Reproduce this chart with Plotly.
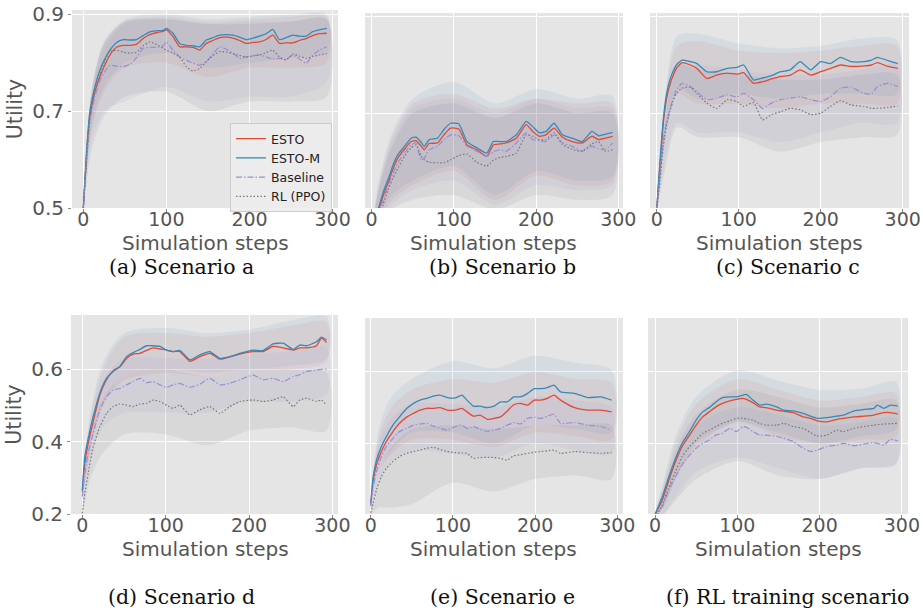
import plotly.graph_objects as go

# ---------------- data ----------------
SERIES = ["ESTO", "ESTO-M", "Baseline", "RL (PPO)"]
X_TICKS = [0, 100, 200, 300]
BAND_X = [0, 10, 25, 50, 100, 150, 200, 250, 293]

# (a) Scenario a
A_X = [0, 4, 8, 14, 20, 26, 32, 40, 48, 56, 64, 72, 80, 88, 96, 100, 108, 116, 124, 132, 140, 148, 156, 164,
       172, 180, 188, 196, 204, 212, 220, 228, 236, 244, 252, 260, 268, 276, 284, 293]
A_ESTO_M = [0.50, 0.62, 0.70, 0.75, 0.785, 0.808, 0.826, 0.842, 0.848, 0.847, 0.848, 0.856, 0.864, 0.866, 0.867,
            0.871, 0.861, 0.840, 0.836, 0.835, 0.833, 0.847, 0.852, 0.857, 0.858, 0.857, 0.853, 0.848, 0.851,
            0.855, 0.860, 0.869, 0.848, 0.852, 0.857, 0.855, 0.855, 0.864, 0.868, 0.871]
A_ESTO = [0.50, 0.61, 0.69, 0.74, 0.771, 0.796, 0.816, 0.832, 0.836, 0.836, 0.838, 0.850, 0.858, 0.862, 0.865,
          0.868, 0.854, 0.833, 0.833, 0.832, 0.826, 0.840, 0.846, 0.852, 0.853, 0.851, 0.846, 0.840, 0.842,
          0.843, 0.848, 0.857, 0.840, 0.841, 0.841, 0.846, 0.850, 0.856, 0.860, 0.861]
A_BASELINE = [0.50, 0.60, 0.68, 0.73, 0.764, 0.782, 0.795, 0.793, 0.792, 0.797, 0.810, 0.830, 0.832, 0.832, 0.835,
              0.843, 0.826, 0.812, 0.805, 0.799, 0.795, 0.802, 0.818, 0.833, 0.828, 0.820, 0.809, 0.812, 0.815,
              0.816, 0.812, 0.808, 0.809, 0.806, 0.816, 0.808, 0.799, 0.816, 0.826, 0.833]
A_RL = [0.50, 0.60, 0.69, 0.745, 0.775, 0.805, 0.823, 0.826, 0.822, 0.820, 0.822, 0.835, 0.843, 0.838, 0.830,
        0.826, 0.820, 0.812, 0.792, 0.783, 0.788, 0.802, 0.815, 0.823, 0.822, 0.819, 0.815, 0.812, 0.814,
        0.816, 0.821, 0.826, 0.812, 0.806, 0.818, 0.814, 0.809, 0.813, 0.816, 0.819]
A_ESTO_HI = [0.50, 0.74, 0.84, 0.885, 0.895, 0.885, 0.890, 0.895, 0.895]
A_ESTO_LO = [0.50, 0.66, 0.74, 0.79, 0.80, 0.77, 0.79, 0.79, 0.80]
A_ESTO_M_HI = [0.50, 0.745, 0.845, 0.89, 0.90, 0.89, 0.895, 0.90, 0.90]
A_ESTO_M_LO = [0.50, 0.67, 0.75, 0.80, 0.82, 0.79, 0.80, 0.81, 0.82]
A_BASELINE_HI = [0.50, 0.73, 0.83, 0.88, 0.89, 0.88, 0.885, 0.885, 0.89]
A_BASELINE_LO = [0.50, 0.64, 0.70, 0.72, 0.75, 0.72, 0.73, 0.73, 0.76]
A_RL_HI = [0.50, 0.74, 0.84, 0.885, 0.89, 0.88, 0.88, 0.885, 0.89]
A_RL_LO = [0.50, 0.62, 0.69, 0.73, 0.74, 0.70, 0.72, 0.72, 0.73]

# (b) Scenario b
B_X = [0, 8, 14, 20, 26, 32, 40, 48, 54, 60, 64, 70, 80, 88, 96, 106, 116, 128, 140, 148, 156, 164, 176, 188,
       196, 204, 212, 222, 232, 244, 256, 268, 276, 284, 293]
B_ESTO_M = [0.45, 0.50, 0.535, 0.562, 0.592, 0.614, 0.631, 0.648, 0.650, 0.640, 0.631, 0.645, 0.648, 0.666, 0.679,
            0.678, 0.641, 0.628, 0.617, 0.641, 0.641, 0.641, 0.655, 0.683, 0.672, 0.659, 0.662, 0.679, 0.655,
            0.648, 0.641, 0.662, 0.653, 0.656, 0.660]
B_ESTO = [0.445, 0.495, 0.528, 0.555, 0.584, 0.607, 0.625, 0.641, 0.643, 0.632, 0.624, 0.637, 0.638, 0.655, 0.669,
          0.667, 0.634, 0.624, 0.610, 0.634, 0.636, 0.638, 0.648, 0.676, 0.662, 0.652, 0.655, 0.669, 0.650,
          0.641, 0.638, 0.652, 0.645, 0.648, 0.652]
B_BASELINE = [0.44, 0.49, 0.52, 0.548, 0.575, 0.597, 0.617, 0.634, 0.638, 0.603, 0.606, 0.624, 0.631, 0.645, 0.655,
              0.653, 0.631, 0.621, 0.610, 0.620, 0.624, 0.621, 0.638, 0.659, 0.645, 0.643, 0.641, 0.655, 0.638,
              0.631, 0.621, 0.631, 0.626, 0.624, 0.638]
B_RL = [0.43, 0.48, 0.51, 0.541, 0.565, 0.586, 0.610, 0.628, 0.634, 0.612, 0.603, 0.598, 0.597, 0.597, 0.603,
        0.612, 0.615, 0.598, 0.590, 0.602, 0.608, 0.610, 0.617, 0.655, 0.652, 0.645, 0.645, 0.659, 0.635,
        0.625, 0.621, 0.636, 0.641, 0.621, 0.624]
B_ESTO_HI = [0.46, 0.56, 0.65, 0.72, 0.74, 0.71, 0.73, 0.72, 0.72]
B_ESTO_LO = [0.40, 0.48, 0.52, 0.55, 0.58, 0.52, 0.57, 0.55, 0.56]
B_ESTO_M_HI = [0.47, 0.57, 0.66, 0.73, 0.765, 0.72, 0.75, 0.73, 0.735]
B_ESTO_M_LO = [0.41, 0.49, 0.53, 0.56, 0.59, 0.53, 0.58, 0.56, 0.57]
B_BASELINE_HI = [0.46, 0.55, 0.64, 0.71, 0.73, 0.70, 0.73, 0.71, 0.71]
B_BASELINE_LO = [0.40, 0.47, 0.51, 0.54, 0.56, 0.51, 0.55, 0.54, 0.55]
B_RL_HI = [0.45, 0.55, 0.63, 0.70, 0.72, 0.69, 0.72, 0.70, 0.70]
B_RL_LO = [0.40, 0.46, 0.50, 0.52, 0.53, 0.50, 0.53, 0.52, 0.53]

# (c) Scenario c
C_X = [0, 4, 8, 12, 16, 20, 24, 31, 41, 49, 61, 73, 86, 98, 106, 118, 129, 140, 151, 163, 175, 188, 200, 212,
       224, 237, 253, 262, 269, 282, 294]
C_ESTO_M = [0.50, 0.60, 0.686, 0.74, 0.769, 0.787, 0.800, 0.810, 0.807, 0.803, 0.786, 0.786, 0.793, 0.795, 0.800,
            0.769, 0.773, 0.778, 0.786, 0.790, 0.807, 0.790, 0.807, 0.803, 0.816, 0.807, 0.807, 0.810, 0.816,
            0.809, 0.803]
C_ESTO = [0.50, 0.59, 0.679, 0.73, 0.759, 0.778, 0.793, 0.805, 0.800, 0.793, 0.772, 0.779, 0.783, 0.781, 0.784,
          0.762, 0.765, 0.771, 0.776, 0.779, 0.790, 0.779, 0.786, 0.793, 0.800, 0.797, 0.798, 0.800, 0.805,
          0.797, 0.793]
C_BASELINE = [0.50, 0.57, 0.645, 0.68, 0.707, 0.730, 0.748, 0.762, 0.755, 0.745, 0.728, 0.731, 0.738, 0.734,
              0.741, 0.728, 0.710, 0.721, 0.728, 0.731, 0.734, 0.728, 0.724, 0.734, 0.752, 0.754, 0.741, 0.740,
              0.755, 0.762, 0.755]
C_RL = [0.50, 0.56, 0.631, 0.675, 0.703, 0.725, 0.741, 0.752, 0.754, 0.741, 0.721, 0.710, 0.728, 0.724, 0.714,
        0.722, 0.686, 0.697, 0.703, 0.710, 0.707, 0.697, 0.700, 0.714, 0.726, 0.717, 0.714, 0.710, 0.710,
        0.712, 0.715]
C_ESTO_HI = [0.50, 0.72, 0.84, 0.85, 0.83, 0.825, 0.83, 0.84, 0.84]
C_ESTO_LO = [0.50, 0.64, 0.74, 0.72, 0.72, 0.71, 0.72, 0.72, 0.72]
C_ESTO_M_HI = [0.50, 0.73, 0.86, 0.865, 0.845, 0.835, 0.84, 0.855, 0.852]
C_ESTO_M_LO = [0.50, 0.65, 0.75, 0.73, 0.74, 0.73, 0.74, 0.74, 0.74]
C_BASELINE_HI = [0.50, 0.69, 0.80, 0.80, 0.79, 0.78, 0.78, 0.79, 0.80]
C_BASELINE_LO = [0.50, 0.60, 0.68, 0.66, 0.66, 0.64, 0.66, 0.68, 0.68]
C_RL_HI = [0.50, 0.68, 0.80, 0.79, 0.78, 0.77, 0.77, 0.78, 0.78]
C_RL_LO = [0.50, 0.58, 0.67, 0.65, 0.65, 0.62, 0.64, 0.65, 0.655]

# (d) Scenario d
D_X = [0, 3, 7, 13, 21, 29, 37, 45, 53, 61, 69, 77, 85, 93, 101, 109, 117, 129, 141, 153, 165, 177, 189, 205,
       217, 229, 241, 253, 261, 269, 281, 287, 293]
D_ESTO_M = [0.266, 0.359, 0.409, 0.469, 0.534, 0.575, 0.594, 0.607, 0.635, 0.646, 0.655, 0.665, 0.665, 0.663,
            0.653, 0.649, 0.652, 0.626, 0.640, 0.649, 0.630, 0.635, 0.644, 0.653, 0.652, 0.670, 0.672, 0.655,
            0.667, 0.665, 0.676, 0.689, 0.681]
D_ESTO = [0.262, 0.340, 0.395, 0.455, 0.529, 0.571, 0.596, 0.607, 0.630, 0.642, 0.644, 0.652, 0.659, 0.656,
          0.653, 0.649, 0.649, 0.622, 0.635, 0.644, 0.628, 0.634, 0.642, 0.649, 0.649, 0.663, 0.659, 0.653,
          0.659, 0.659, 0.665, 0.686, 0.674]
D_BASELINE = [0.248, 0.312, 0.368, 0.423, 0.488, 0.524, 0.543, 0.547, 0.557, 0.566, 0.575, 0.563, 0.566, 0.557,
              0.550, 0.557, 0.561, 0.550, 0.559, 0.575, 0.557, 0.561, 0.571, 0.584, 0.571, 0.575, 0.566, 0.580,
              0.585, 0.594, 0.598, 0.600, 0.600]
D_RL = [0.202, 0.257, 0.312, 0.386, 0.441, 0.478, 0.497, 0.504, 0.501, 0.497, 0.504, 0.506, 0.515, 0.511, 0.501,
        0.492, 0.501, 0.474, 0.488, 0.497, 0.478, 0.497, 0.511, 0.515, 0.511, 0.515, 0.524, 0.497, 0.515, 0.520,
        0.511, 0.515, 0.500]
D_ESTO_HI = [0.28, 0.47, 0.60, 0.69, 0.70, 0.69, 0.70, 0.72, 0.73]
D_ESTO_LO = [0.24, 0.38, 0.50, 0.57, 0.59, 0.58, 0.60, 0.60, 0.62]
D_ESTO_M_HI = [0.29, 0.48, 0.62, 0.70, 0.715, 0.70, 0.71, 0.735, 0.745]
D_ESTO_M_LO = [0.24, 0.39, 0.51, 0.58, 0.60, 0.59, 0.60, 0.61, 0.63]
D_BASELINE_HI = [0.27, 0.44, 0.57, 0.63, 0.63, 0.63, 0.64, 0.65, 0.66]
D_BASELINE_LO = [0.23, 0.35, 0.44, 0.48, 0.48, 0.48, 0.51, 0.51, 0.53]
D_RL_HI = [0.22, 0.41, 0.52, 0.58, 0.60, 0.58, 0.60, 0.60, 0.59]
D_RL_LO = [0.19, 0.30, 0.37, 0.42, 0.42, 0.39, 0.43, 0.44, 0.43]

# (e) Scenario e
E_X = [0, 3, 7, 13, 19, 27, 35, 44, 52, 60, 68, 76, 84, 93, 103, 111, 117, 125, 133, 142, 150, 158, 166, 174,
       182, 191, 199, 207, 215, 223, 231, 248, 264, 280, 293]
E_ESTO_M = [0.233, 0.307, 0.353, 0.391, 0.419, 0.451, 0.474, 0.498, 0.512, 0.521, 0.526, 0.532, 0.535, 0.528,
            0.527, 0.535, 0.521, 0.504, 0.504, 0.500, 0.504, 0.516, 0.516, 0.530, 0.530, 0.540, 0.553, 0.553,
            0.556, 0.563, 0.544, 0.540, 0.528, 0.530, 0.521]
E_ESTO = [0.228, 0.298, 0.340, 0.377, 0.405, 0.433, 0.456, 0.474, 0.484, 0.493, 0.498, 0.498, 0.500, 0.493,
          0.493, 0.498, 0.488, 0.476, 0.479, 0.467, 0.470, 0.474, 0.490, 0.508, 0.512, 0.507, 0.521, 0.521,
          0.526, 0.535, 0.521, 0.500, 0.493, 0.493, 0.488]
E_BASELINE = [0.223, 0.279, 0.321, 0.363, 0.391, 0.414, 0.433, 0.442, 0.451, 0.454, 0.456, 0.448, 0.442, 0.437,
              0.447, 0.451, 0.442, 0.447, 0.440, 0.433, 0.437, 0.442, 0.451, 0.458, 0.454, 0.470, 0.473, 0.470,
              0.476, 0.482, 0.456, 0.458, 0.451, 0.447, 0.437]
E_RL = [0.205, 0.233, 0.270, 0.307, 0.330, 0.349, 0.363, 0.372, 0.377, 0.381, 0.386, 0.389, 0.383, 0.377, 0.374,
        0.373, 0.372, 0.358, 0.360, 0.361, 0.360, 0.358, 0.353, 0.365, 0.368, 0.372, 0.375, 0.377, 0.379, 0.381,
        0.372, 0.377, 0.374, 0.372, 0.374]
E_ESTO_HI = [0.24, 0.42, 0.50, 0.55, 0.58, 0.57, 0.60, 0.58, 0.57]
E_ESTO_LO = [0.22, 0.32, 0.37, 0.41, 0.41, 0.39, 0.43, 0.42, 0.41]
E_ESTO_M_HI = [0.25, 0.44, 0.53, 0.58, 0.63, 0.61, 0.645, 0.625, 0.605]
E_ESTO_M_LO = [0.22, 0.33, 0.38, 0.43, 0.43, 0.40, 0.45, 0.44, 0.43]
E_BASELINE_HI = [0.24, 0.40, 0.47, 0.51, 0.51, 0.50, 0.53, 0.52, 0.50]
E_BASELINE_LO = [0.21, 0.30, 0.35, 0.38, 0.37, 0.36, 0.40, 0.38, 0.37]
E_RL_HI = [0.21, 0.32, 0.39, 0.44, 0.45, 0.44, 0.45, 0.45, 0.45]
E_RL_LO = [0.20, 0.22, 0.22, 0.23, 0.29, 0.265, 0.30, 0.31, 0.30]

# (f) RL training scenario
F_X = [0, 9, 17, 25, 33, 42, 50, 58, 66, 74, 82, 91, 99, 107, 111, 119, 127, 135, 148, 156, 168, 180, 189, 197,
       209, 221, 229, 242, 254, 266, 270, 278, 286, 295]
F_ESTO_M = [0.200, 0.251, 0.307, 0.358, 0.400, 0.433, 0.465, 0.488, 0.500, 0.516, 0.528, 0.530, 0.530, 0.535,
            0.537, 0.521, 0.507, 0.510, 0.502, 0.493, 0.491, 0.484, 0.476, 0.470, 0.472, 0.476, 0.479, 0.491,
            0.495, 0.498, 0.507, 0.498, 0.507, 0.504]
F_ESTO = [0.200, 0.242, 0.298, 0.349, 0.391, 0.423, 0.451, 0.474, 0.488, 0.502, 0.512, 0.519, 0.523, 0.526,
          0.523, 0.514, 0.502, 0.500, 0.493, 0.490, 0.486, 0.474, 0.470, 0.463, 0.460, 0.467, 0.470, 0.474,
          0.476, 0.479, 0.482, 0.486, 0.486, 0.482]
F_BASELINE = [0.190, 0.223, 0.270, 0.307, 0.340, 0.367, 0.386, 0.400, 0.409, 0.423, 0.428, 0.442, 0.433, 0.447,
              0.445, 0.433, 0.423, 0.423, 0.419, 0.414, 0.405, 0.386, 0.377, 0.381, 0.391, 0.395, 0.400, 0.393,
              0.398, 0.402, 0.400, 0.395, 0.411, 0.407]
F_RL = [0.190, 0.228, 0.279, 0.321, 0.363, 0.391, 0.409, 0.428, 0.437, 0.447, 0.456, 0.463, 0.470, 0.470, 0.468,
        0.465, 0.456, 0.451, 0.451, 0.456, 0.447, 0.442, 0.430, 0.420, 0.423, 0.437, 0.433, 0.442, 0.447, 0.451,
        0.452, 0.454, 0.455, 0.456]
F_ESTO_HI = [0.20, 0.28, 0.40, 0.51, 0.58, 0.55, 0.52, 0.53, 0.54]
F_ESTO_LO = [0.20, 0.22, 0.30, 0.39, 0.46, 0.42, 0.40, 0.41, 0.42]
F_ESTO_M_HI = [0.20, 0.29, 0.42, 0.53, 0.605, 0.575, 0.55, 0.553, 0.572]
F_ESTO_M_LO = [0.20, 0.22, 0.30, 0.40, 0.46, 0.43, 0.40, 0.42, 0.44]
F_BASELINE_HI = [0.20, 0.26, 0.36, 0.45, 0.50, 0.48, 0.45, 0.46, 0.47]
F_BASELINE_LO = [0.19, 0.20, 0.25, 0.32, 0.36, 0.33, 0.30, 0.33, 0.34]
F_RL_HI = [0.20, 0.27, 0.38, 0.48, 0.55, 0.53, 0.50, 0.51, 0.52]
F_RL_LO = [0.19, 0.20, 0.24, 0.30, 0.35, 0.31, 0.30, 0.33, 0.345]

CAPTIONS = ["(a) Scenario a", "(b) Scenario b", "(c) Scenario c",
            "(d) Scenario d", "(e) Scenario e", "(f) RL training scenario"]
X_TITLE = "Simulation steps"
Y_TITLE = "Utility"

# ---------------- styling ----------------
W, H = 923, 614
COLORS = ["#E24A33", "#348ABD", "#988ED5", "#777777"]
DASHES = ["solid", "solid", "6px,2px,1.5px,2px", "1.5px,2px"]
WIDTHS = [1.3, 1.3, 1.2, 1.2]
FILLS = ["rgba(226,74,51,0.09)", "rgba(52,138,189,0.09)", "rgba(152,142,213,0.11)", "rgba(119,119,119,0.11)"]
TICK_COLOR = "#555555"

panels = [
    dict(x=A_X, m=[A_ESTO, A_ESTO_M, A_BASELINE, A_RL],
         hi=[A_ESTO_HI, A_ESTO_M_HI, A_BASELINE_HI, A_RL_HI], lo=[A_ESTO_LO, A_ESTO_M_LO, A_BASELINE_LO, A_RL_LO],
         px=(72, 338), py=(10, 208), xr=(-13.6, 306.5), yr=(0.5, 0.909), yt=[0.5, 0.7, 0.9], lab=True,
         tx=205, ty=243, cx=181, cy=267),
    dict(x=B_X, m=[B_ESTO, B_ESTO_M, B_BASELINE, B_RL],
         hi=[B_ESTO_HI, B_ESTO_M_HI, B_BASELINE_HI, B_RL_HI], lo=[B_ESTO_LO, B_ESTO_M_LO, B_BASELINE_LO, B_RL_LO],
         px=(365, 623), py=(13, 208), xr=(-8.0, 305.7), yr=(0.503, 0.908), yt=[0.5, 0.7, 0.9], lab=False,
         tx=494, ty=243, cx=502, cy=267),
    dict(x=C_X, m=[C_ESTO, C_ESTO_M, C_BASELINE, C_RL],
         hi=[C_ESTO_HI, C_ESTO_M_HI, C_BASELINE_HI, C_RL_HI], lo=[C_ESTO_LO, C_ESTO_M_LO, C_BASELINE_LO, C_RL_LO],
         px=(650, 909), py=(13, 208), xr=(-8.2, 307.7), yr=(0.503, 0.908), yt=[0.5, 0.7, 0.9], lab=False,
         tx=779, ty=243, cx=788, cy=267),
    dict(x=D_X, m=[D_ESTO, D_ESTO_M, D_BASELINE, D_RL],
         hi=[D_ESTO_HI, D_ESTO_M_HI, D_BASELINE_HI, D_RL_HI], lo=[D_ESTO_LO, D_ESTO_M_LO, D_BASELINE_LO, D_RL_LO],
         px=(71, 338), py=(315, 514), xr=(-13.6, 306.8), yr=(0.2, 0.75), yt=[0.2, 0.4, 0.6], lab=True,
         tx=205, ty=549, cx=181, cy=597),
    dict(x=E_X, m=[E_ESTO, E_ESTO_M, E_BASELINE, E_RL],
         hi=[E_ESTO_HI, E_ESTO_M_HI, E_BASELINE_HI, E_RL_HI], lo=[E_ESTO_LO, E_ESTO_M_LO, E_BASELINE_LO, E_RL_LO],
         px=(365, 623), py=(318, 514), xr=(-7.0, 307.0), yr=(0.202, 0.751), yt=[0.2, 0.4, 0.6], lab=False,
         tx=494, ty=549, cx=502, cy=597),
    dict(x=F_X, m=[F_ESTO, F_ESTO_M, F_BASELINE, F_RL],
         hi=[F_ESTO_HI, F_ESTO_M_HI, F_BASELINE_HI, F_RL_HI], lo=[F_ESTO_LO, F_ESTO_M_LO, F_BASELINE_LO, F_RL_LO],
         px=(648, 908), py=(318, 514), xr=(-8.5, 307.4), yr=(0.202, 0.751), yt=[0.2, 0.4, 0.6], lab=False,
         tx=778, ty=549, cx=787, cy=597),
]

fig = go.Figure()
layout = dict(width=W, height=H, autosize=False, margin=dict(l=0, r=0, t=0, b=0, pad=0, autoexpand=False),
              paper_bgcolor="white", plot_bgcolor="#E5E5E5",
              font=dict(family="DejaVu Sans", color=TICK_COLOR),
              showlegend=True, annotations=[])

for i, p in enumerate(panels, start=1):
    xa = "x" if i == 1 else f"x{i}"
    ya = "y" if i == 1 else f"y{i}"
    for k in range(4):
        fig.add_trace(go.Scatter(
            x=BAND_X + BAND_X[::-1], y=p["hi"][k] + p["lo"][k][::-1],
            xaxis=xa, yaxis=ya, fill="toself", fillcolor=FILLS[k],
            line=dict(width=0, shape="spline", smoothing=0.8), mode="lines",
            hoverinfo="skip", showlegend=False))
    for k in range(4):
        fig.add_trace(go.Scatter(
            x=p["x"], y=p["m"][k], xaxis=xa, yaxis=ya, mode="lines", name=SERIES[k],
            line=dict(color=COLORS[k], width=WIDTHS[k], dash=DASHES[k], shape="spline", smoothing=0.5),
            showlegend=(i == 1)))
    xkey = "xaxis" if i == 1 else f"xaxis{i}"
    ykey = "yaxis" if i == 1 else f"yaxis{i}"
    layout[xkey] = dict(
        domain=[p["px"][0] / W, p["px"][1] / W], range=list(p["xr"]), anchor=ya, automargin=False,
        tickmode="array", tickvals=X_TICKS, ticks="outside", ticklen=3, tickcolor="#8a8a8a", tickwidth=1,
        ticklabelstandoff=-9,
        tickfont=dict(family="DejaVu Sans", size=19, color=TICK_COLOR),
        showgrid=True, gridcolor="white", gridwidth=1.3, zeroline=False, showline=False)
    layout[ykey] = dict(
        domain=[1 - p["py"][1] / H, 1 - p["py"][0] / H], range=list(p["yr"]), anchor=xa, automargin=False,
        tickmode="array", tickvals=p["yt"], ticktext=[f"{v:.1f}" for v in p["yt"]],
        showticklabels=p["lab"], ticks="outside" if p["lab"] else "", ticklen=3, tickcolor="#8a8a8a",
        tickfont=dict(family="DejaVu Sans", size=20, color=TICK_COLOR),
        showgrid=True, gridcolor="white", gridwidth=1.3, zeroline=False, showline=False,
        title=dict(text=Y_TITLE if p["lab"] else "", font=dict(family="DejaVu Sans", size=20.5, color=TICK_COLOR),
                   standoff=4))
    layout["annotations"].append(dict(
        text=X_TITLE, xref="paper", yref="paper", x=p["tx"] / W, y=1 - p["ty"] / H,
        xanchor="center", yanchor="middle", showarrow=False,
        font=dict(family="DejaVu Sans", size=20, color=TICK_COLOR)))
    layout["annotations"].append(dict(
        text=CAPTIONS[i - 1], xref="paper", yref="paper", x=p["cx"] / W, y=1 - p["cy"] / H,
        xanchor="center", yanchor="middle", showarrow=False,
        font=dict(family="DejaVu Serif", size=20.5, color="#111111")))

layout["legend"] = dict(
    x=230 / W, y=1 - 123 / H, xanchor="left", yanchor="top", xref="paper", yref="paper",
    bgcolor="rgba(236,236,236,0.9)", bordercolor="#CCCCCC", borderwidth=1,
    font=dict(family="DejaVu Sans", size=12.5, color="#222222"), tracegroupgap=0, itemwidth=30)

fig.update_layout(**layout)
fig.write_html("out.html", config={"displayModeBar": False},
               post_script="document.body.style.margin='0px';document.body.style.padding='0px';")
